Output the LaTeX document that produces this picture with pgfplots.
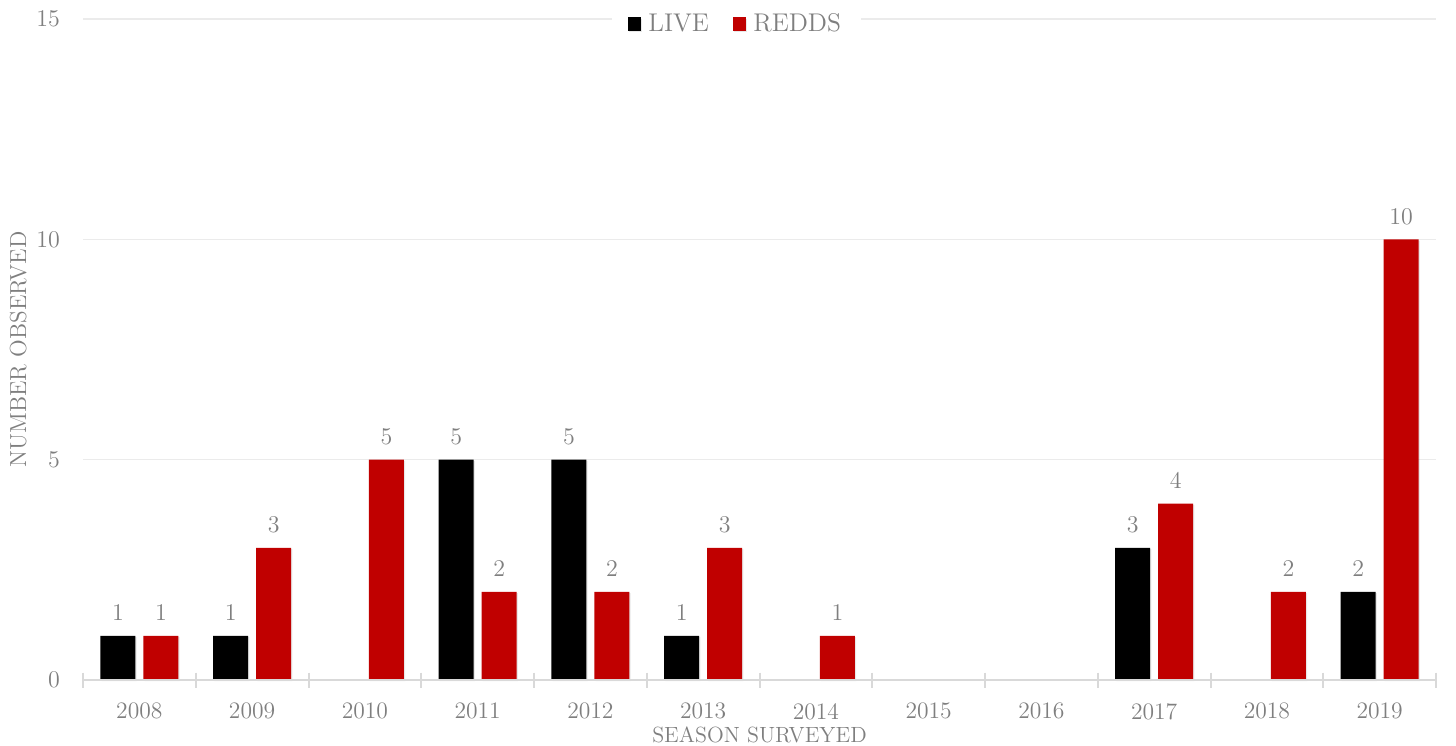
\documentclass[border=0pt]{standalone}
\usepackage{pgfplots}
\pgfplotsset{compat=1.18}
\usetikzlibrary{shadows}
\definecolor{txt}{HTML}{7F7F7F}
\definecolor{gridc}{HTML}{EBEBEB}
\definecolor{axc}{HTML}{D9D9D9}
\definecolor{redd}{HTML}{C00000}
\begin{document}
\begin{tikzpicture}
\begin{axis}[
  scale only axis,
  width=676.5pt, height=330.5pt,
  xmin=-0.5, xmax=11.5,
  ymin=0, ymax=15,
  ytick={0,5,10,15},
  ymajorgrids, grid style={gridc, line width=0.8pt},
  axis line style={draw=none},
  xtick pos=bottom, ytick pos=left,
  xtick={0,...,11},
  xticklabels={2008,2009,2010,2011,2012,2013,2014,2015,2016,2017,2018,2019},
  major tick length=0pt,
  tick style={draw=none},
  tick label style={font=\fontsize{11.8}{13}\selectfont, text=txt},
  xticklabel style={yshift=-8pt},
  yticklabel style={xshift=-8pt},
  xlabel={SEASON SURVEYED},
  ylabel={NUMBER OBSERVED},
  xlabel style={font=\fontsize{11}{13}\selectfont, text=txt, yshift=3pt},
  ylabel style={font=\fontsize{11.6}{13}\selectfont, text=txt, yshift=-2pt},
  ybar,
  bar width=17.5pt,
  nodes near coords,
  every node near coord/.append style={font=\fontsize{11.8}{13}\selectfont, text=txt, yshift=4pt},
  legend style={at={(0.483,1)}, anchor=center, yshift=-2.5pt, draw=none, fill=white,
    font=\fontsize{12.8}{14}\selectfont, text=txt, legend columns=2,
    /tikz/every even column/.append style={column sep=10pt}, inner xsep=8pt},
  legend image code/.code={\fill[#1] (0pt,-3.3pt) rectangle (6.6pt,3.3pt); \path (8.2pt,0pt);},
  clip=false,
]
\addplot[fill=black, draw=none, bar shift=-10.75pt, drop shadow={opacity=0.18, shadow xshift=0.6pt, shadow yshift=-0.6pt}]
  coordinates {(0,1) (1,1) (3,5) (4,5) (5,1) (9,3) (11,2)};
\addlegendentry{LIVE}
\addplot[fill=redd, draw=none, bar shift=10.75pt, drop shadow={opacity=0.18, shadow xshift=0.6pt, shadow yshift=-0.6pt}]
  coordinates {(0,1) (1,3) (2,5) (3,2) (4,2) (5,3) (6,1) (9,4) (10,2) (11,10)};
\addlegendentry{REDDS}
\draw[axc, line width=1pt] (axis cs:-0.5,0) -- (axis cs:11.5,0);
\pgfplotsinvokeforeach{-0.5,0.5,1.5,2.5,3.5,4.5,5.5,6.5,7.5,8.5,9.5,10.5,11.5}{
  \draw[axc, line width=1pt] ([yshift=3.75pt]axis cs:#1,0) -- ([yshift=-3.75pt]axis cs:#1,0);
}
\end{axis}
\pgfresetboundingbox
\path (-41.5pt,-32.5pt) rectangle (686.5pt,340pt);
\end{tikzpicture}
\end{document}
